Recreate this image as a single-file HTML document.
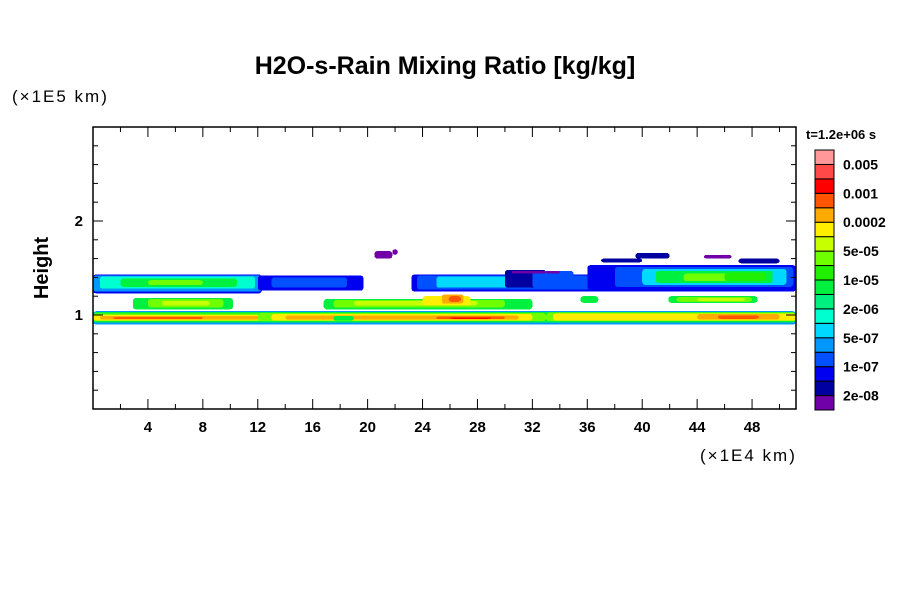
<!DOCTYPE html>
<html><head><meta charset="utf-8"><style>
body{margin:0;background:#fff;}
svg text{font-family:"Liberation Sans",sans-serif;}
</style></head><body>
<svg id="chart" width="900" height="600" xmlns="http://www.w3.org/2000/svg">
<rect width="900" height="600" fill="#fff"/>
<text x="445" y="74" text-anchor="middle" font-size="25" font-weight="bold">H2O-s-Rain Mixing Ratio [kg/kg]</text>
<text x="12" y="102" font-size="17" letter-spacing="2">(×1E5 km)</text>
<text x="700" y="461" font-size="17" letter-spacing="2">(×1E4 km)</text>
<text transform="translate(48,268) rotate(-90)" text-anchor="middle" font-size="20" font-weight="bold">Height</text>
<text x="806" y="139" font-size="13" font-weight="bold">t=1.2e+06 s</text>
<g id="field" shape-rendering="crispEdges"></g>
<g id="axes"></g>
<g id="cbar"></g>
</svg>
<script>
const colors=["#7000a8","#0000a0","#0000f0","#0050ff","#0098ff","#00d8ff","#00ffd0","#00f080","#00f040","#20f000","#70ff00","#c8ff00","#ffee00","#ffaa00","#ff5500","#ff0000","#ff4848","#ff9999"];
const cbarLabels=["2e-08","1e-07","5e-07","2e-06","1e-05","5e-05","0.0002","0.001","0.005"];
const xTicks=[4,8,12,16,20,24,28,32,36,40,44,48];
const yTicks=[1,2];
// contour patches: x range, height range, level index (drawn in order)
const segX0=[0,0,0,0,0.5,1.5,12,13,14,25,26,17.5,33,33.5,44,45.5,
 2.9,4,5,16.8,17.5,19,24,25.4,25.9,35.5,41.9,42.5,44,
 0,0,0.5,2,4,12,13,23.2,23.6,25,30,32,36,38,40,41,43,46,30.5,33,22.5,
 20.5,21.8,37,39.5,44.5,47];
const segX1=[51.2,51.2,17.5,17,16,8,33,32,31,30,29,19,51.2,51.2,50,48.5,
 10.2,9.5,8.5,32,30,28,27.5,27,26.8,36.8,48.4,48,47.5,
 12.3,12.3,11.8,10.5,8,19.7,18.5,51.2,51,31,33,35,51.2,51,50.5,49.5,48,49,33,34,22.5,
 21.8,22.2,40,42,46.5,50];
const segY0=[0.9,0.92,0.935,0.94,0.95,0.955,0.935,0.94,0.95,0.955,0.96,0.94,0.935,0.94,0.95,0.96,
 1.06,1.08,1.1,1.06,1.08,1.1,1.1,1.12,1.14,1.13,1.13,1.14,1.15,
 1.23,1.25,1.28,1.3,1.32,1.26,1.29,1.25,1.27,1.29,1.29,1.29,1.27,1.3,1.32,1.34,1.36,1.36,1.44,1.44,1.3,
 1.6,1.64,1.56,1.6,1.6,1.55];
const segY1=[1.04,1.03,1.015,1.0,0.99,0.98,1.02,1.01,0.995,0.985,0.975,0.99,1.025,1.015,1.01,0.995,
 1.18,1.17,1.15,1.17,1.16,1.15,1.2,1.22,1.2,1.2,1.2,1.19,1.18,
 1.43,1.42,1.41,1.39,1.37,1.42,1.4,1.43,1.42,1.41,1.48,1.47,1.53,1.51,1.49,1.47,1.44,1.45,1.47,1.47,1.42,
 1.68,1.7,1.6,1.66,1.64,1.6];
const segLv=[4,8,10,12,13,14,10,12,13,14,15,8,10,12,13,14,
 8,10,11,8,10,11,12,13,14,8,8,10,11,
 2,4,6,8,10,2,3,2,3,5,1,3,2,3,5,8,10,9,0,0,1,
 0,0,1,1,0,1];
const X0=93,X1=796,Y0=409,Y1=127,xMax=51.2,yMax=3.0;
const sx=v=>X0+v/xMax*(X1-X0);
const sy=v=>Y0-v/yMax*(Y0-Y1);
const NS="http://www.w3.org/2000/svg";
function mk(t,a,p){const e=document.createElementNS(NS,t);for(const k in a)e.setAttribute(k,a[k]);p.appendChild(e);return e;}
const field=document.getElementById('field');
for(let i=0;i<segLv.length;i++){
 const r=mk('rect',{x:sx(segX0[i]),y:sy(segY1[i]),width:sx(segX1[i])-sx(segX0[i]),height:sy(segY0[i])-sy(segY1[i]),rx:3,fill:colors[segLv[i]]},field);
 
 
}
const ax=document.getElementById('axes');
const fr=mk('rect',{x:X0,y:Y1,width:X1-X0,height:Y0-Y1,fill:'none',stroke:'#000','stroke-width':1.5},ax);


for(let v=2;v<xMax;v+=2){
 const L=(v%4===0)?10:5;
 mk('line',{x1:sx(v),x2:sx(v),y1:Y0,y2:Y0-L,stroke:'#000'},ax);
 mk('line',{x1:sx(v),x2:sx(v),y1:Y1,y2:Y1+L,stroke:'#000'},ax);
}
for(let k=1;k<15;k++){
 const v=k*0.2;const L=(k%5===0)?10:5;
 mk('line',{x1:X0,x2:X0+L,y1:sy(v),y2:sy(v),stroke:'#000'},ax);
 mk('line',{x1:X1,x2:X1-L,y1:sy(v),y2:sy(v),stroke:'#000'},ax);
}
xTicks.forEach(v=>{const t=mk('text',{x:sx(v),y:Y0+23,'text-anchor':'middle','font-size':15,'font-weight':'bold'},ax);t.textContent=v;
 
 });
yTicks.forEach(v=>{const t=mk('text',{x:X0-10,y:sy(v)+5,'text-anchor':'end','font-size':15,'font-weight':'bold'},ax);t.textContent=v;
 
 });
const cb=document.getElementById('cbar');
const cx=815,cw=19,cTop=150,cBot=410,h=(cBot-cTop)/colors.length;
colors.forEach((c,i)=>{const r=mk('rect',{x:cx,y:cBot-(i+1)*h,width:cw,height:h,fill:c,stroke:'#000','stroke-width':1},cb);
 
 });
cbarLabels.forEach((s,i)=>{const t=mk('text',{x:843,y:cBot-(2*i+1)*h+5,'font-size':14,'font-weight':'bold'},cb);t.textContent=s;
 
 });
</script>
</body></html>
